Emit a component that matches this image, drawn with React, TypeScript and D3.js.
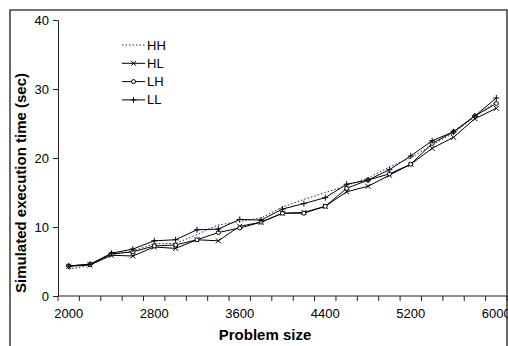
import React, { useEffect, useRef } from 'react';
import * as d3 from 'd3';

// problem sizes (category axis, Excel style)
const sizes = d3.range(2000, 6001, 200);
const tickLabels = ['2000', '2800', '3600', '4400', '5200', '6000'];
const yTicks = [0, 10, 20, 30, 40];

// simulated execution time (sec)
const hh = [3.9, 4.45, 6.0, 6.5, 7.6, 7.6, 8.9, 10.3, 10.8, 11.3, 12.9, 14.0, 15.0, 16.0, 17.1, 18.7, 20.0, 21.9, 23.6, 26.0, 28.2];
const hl = [4.3, 4.5, 5.9, 5.8, 7.1, 6.9, 8.15, 8.0, 10.1, 10.7, 12.0, 12.1, 13.0, 15.1, 15.9, 17.5, 19.1, 21.4, 23.0, 25.7, 27.2];
const lh = [4.35, 4.6, 6.1, 6.4, 7.25, 7.4, 8.15, 9.2, 9.85, 10.7, 12.0, 12.0, 13.0, 15.6, 16.8, 17.7, 19.1, 22.1, 23.8, 26.1, 27.9];
const ll = [4.35, 4.6, 6.2, 6.8, 8.0, 8.15, 9.6, 9.7, 11.1, 11.0, 12.6, 13.4, 14.25, 16.2, 16.8, 18.3, 20.3, 22.5, 23.8, 26.1, 28.7];

const seriesNames = ['HH', 'HL', 'LH', 'LL'];

const FONT = 'Arial, Liberation Sans, sans-serif';

const App: React.FC = () => {
  const svgRef = useRef<SVGSVGElement>(null);

  useEffect(() => {
    if (!svgRef.current) return;
    const svg = d3.select(svgRef.current);
    svg.selectAll('*').remove();

    const left = 58, right = 507, top = 20, bottom = 296;

    // frame around the chart area
    svg.append('path')
      .attr('d', `M10,346 L10,10 L507,10 L507,346`)
      .attr('fill', 'none')
      .attr('stroke', '#444')
      .attr('stroke-width', 1.6);

    const x = d3.scaleBand<number>().domain(sizes).range([left, right]).padding(0);
    const cx = (s: number) => (x(s) as number) + x.bandwidth() / 2;
    const y = d3.scaleLinear().domain([0, 40]).range([bottom, top]);

    // y axis
    const yAxis = svg.append('g')
      .attr('transform', `translate(${left},0)`)
      .call(d3.axisLeft(y).tickValues(yTicks).tickSize(5).tickPadding(4));
    yAxis.select('.domain').attr('stroke', '#222');
    yAxis.selectAll('line').attr('stroke', '#222');
    yAxis.selectAll('text').attr('font-family', FONT).attr('font-size', 13).attr('fill', '#000');

    // x axis: ticks between categories, labels every 4th category
    const xg = svg.append('g');
    xg.append('line')
      .attr('x1', left).attr('x2', right)
      .attr('y1', bottom).attr('y2', bottom)
      .attr('stroke', '#222');
    const edges = sizes.map(s => x(s) as number).concat([right]);
    xg.selectAll('line.tick')
      .data(edges)
      .enter()
      .append('line')
      .attr('class', 'tick')
      .attr('x1', d => d).attr('x2', d => d)
      .attr('y1', bottom).attr('y2', bottom + 5)
      .attr('stroke', '#222');
    xg.selectAll('text')
      .data(tickLabels)
      .enter()
      .append('text')
      .attr('x', d => cx(+d))
      .attr('y', 318)
      .attr('text-anchor', 'middle')
      .attr('font-family', FONT)
      .attr('font-size', 13)
      .text(d => d);

    // axis titles
    svg.append('text')
      .attr('x', 265)
      .attr('y', 340)
      .attr('text-anchor', 'middle')
      .attr('font-family', FONT)
      .attr('font-size', 15)
      .attr('font-weight', 'bold')
      .text('Problem size');
    svg.append('text')
      .attr('transform', `translate(26,183) rotate(-90)`)
      .attr('text-anchor', 'middle')
      .attr('font-family', FONT)
      .attr('font-size', 15)
      .attr('font-weight', 'bold')
      .text('Simulated execution time (sec)');

    const line = d3.line<number>()
      .x((_, i) => cx(sizes[i]))
      .y(d => y(d));

    const allSeries = [hh, hl, lh, ll];
    const plot = svg.append('g');

    const drawMarker = (g: d3.Selection<SVGGElement, unknown, null, undefined>, kind: string, px: number, py: number) => {
      if (kind === 'HL') {
        g.append('path')
          .attr('d', `M${px - 2.5},${py - 2.5}L${px + 2.5},${py + 2.5}M${px - 2.5},${py + 2.5}L${px + 2.5},${py - 2.5}`)
          .attr('stroke', '#000').attr('stroke-width', 1);
      } else if (kind === 'LH') {
        g.append('circle')
          .attr('cx', px).attr('cy', py).attr('r', 2)
          .attr('fill', '#fff').attr('stroke', '#000').attr('stroke-width', 1);
      } else if (kind === 'LL') {
        g.append('path')
          .attr('d', `M${px - 3},${py}L${px + 3},${py}M${px},${py - 3}L${px},${py + 3}`)
          .attr('stroke', '#000').attr('stroke-width', 1);
      }
    };

    allSeries.forEach((vals, si) => {
      const name = seriesNames[si];
      const g = plot.append('g');
      g.append('path')
        .datum(vals)
        .attr('d', line)
        .attr('fill', 'none')
        .attr('stroke', name === 'HH' ? '#1a1aa0' : '#000')
        .attr('stroke-width', 1)
        .attr('stroke-dasharray', name === 'HH' ? '1.5,2' : null);
      vals.forEach((v, i) => drawMarker(g, name, cx(sizes[i]), y(v)));
    });

    // legend
    const legend = svg.append('g');
    seriesNames.forEach((name, i) => {
      const ly = 45 + i * 18.3;
      const lg = legend.append('g');
      lg.append('line')
        .attr('x1', 122).attr('x2', 145)
        .attr('y1', ly).attr('y2', ly)
        .attr('stroke', name === 'HH' ? '#1a1aa0' : '#000')
        .attr('stroke-width', 1)
        .attr('stroke-dasharray', name === 'HH' ? '1.5,2' : null);
      drawMarker(lg, name, 133.5, ly);
      lg.append('text')
        .attr('x', 147)
        .attr('y', ly + 4.5)
        .attr('font-family', FONT)
        .attr('font-size', 13)
        .text(name);
    });
  }, []);

  return (
    <svg ref={svgRef} width={508} height={346} style={{ position: 'absolute', left: 0, top: 0, background: '#fff' }} />
  );
};

export default App;
